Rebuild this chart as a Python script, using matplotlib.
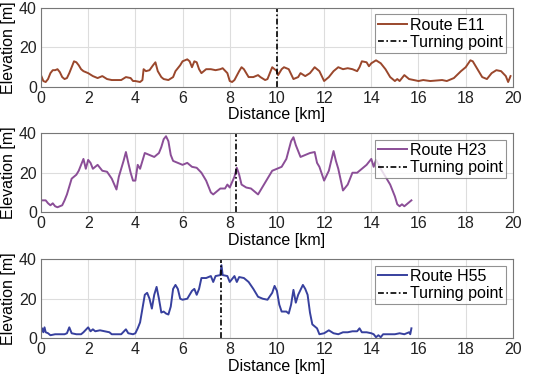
import matplotlib
matplotlib.use("Agg")
import matplotlib.pyplot as plt

plt.rcParams['font.family'] = ['Liberation Sans', 'DejaVu Sans']

# Route E11
e11_x = [0, 0.1, 0.2, 0.3, 0.4, 0.5, 0.6, 0.7, 0.8, 0.9, 1.0, 1.1, 1.2, 1.3, 1.4, 1.5, 1.6, 1.7, 1.8,
         2.0, 2.2, 2.4, 2.6, 2.8, 3.0, 3.2, 3.4, 3.6, 3.8, 3.9, 4.0, 4.2, 4.3, 4.35, 4.45, 4.6, 4.75,
         4.85, 4.95, 5.1, 5.2, 5.4, 5.6, 5.7, 5.9, 6.0, 6.2, 6.3, 6.4, 6.5, 6.6, 6.7, 6.8, 6.9, 7.0,
         7.2, 7.4, 7.6, 7.7, 7.9, 8.0, 8.1, 8.2, 8.4, 8.5, 8.6, 8.8, 9.0, 9.2, 9.3, 9.5, 9.6, 9.8,
         10.0, 10.05, 10.2, 10.3, 10.5, 10.7, 10.9, 11.0, 11.2, 11.4, 11.6, 11.8, 12.0, 12.2, 12.4,
         12.6, 12.8, 13.0, 13.2, 13.4, 13.5, 13.6, 13.8, 13.9, 14.0, 14.2, 14.4, 14.6, 14.8, 15.0,
         15.1, 15.2, 15.4, 15.6, 15.8, 16.0, 16.2, 16.5, 17.0, 17.2, 17.5, 17.8, 18.0, 18.2, 18.3,
         18.5, 18.7, 18.9, 19.1, 19.3, 19.5, 19.7, 19.8, 19.9]
e11_y = [6, 3, 2.5, 4, 7, 8.5, 8.5, 9, 7.5, 5, 4, 4.5, 7, 10, 13, 12.5, 11, 9, 8,
         7, 5.5, 4.5, 5.5, 4, 3.5, 3.5, 3.5, 5, 4.5, 3, 3, 2.5, 3.5, 9, 8, 8.5, 11,
         12.5, 8, 5, 4, 3.5, 5, 8, 11, 13, 14, 13, 10, 13, 12.5, 9, 7, 8, 9,
         9, 8.5, 9, 9.5, 7, 3, 2.5, 3.5, 8, 10, 9, 5, 5, 6, 5, 3.5, 4, 10,
         8, 6, 9, 10, 9, 4, 5, 7, 5.5, 7, 10, 8, 3, 5, 8,
         10, 9, 9.5, 9, 8, 10, 13, 12.5, 10.5, 12, 13.5, 12, 9, 5, 3,
         4, 3, 6, 4, 3.5, 3, 3.5, 3, 3.5, 3, 4.5, 8, 10, 13.5, 13,
         9, 5, 4, 7, 8.5, 8, 5.5, 2.5, 5.5]

# Route H23
h23_x = [0, 0.2, 0.3, 0.4, 0.5, 0.6, 0.7, 0.9, 1.0, 1.1, 1.2, 1.3, 1.5, 1.6, 1.7, 1.8, 1.9, 2.0,
         2.1, 2.2, 2.4, 2.6, 2.8, 3.0, 3.2, 3.3, 3.5, 3.6, 3.7, 3.8, 3.9, 4.0, 4.1, 4.2, 4.3, 4.4,
         4.6, 4.8, 5.0, 5.1, 5.2, 5.3, 5.4, 5.5, 5.6, 5.8, 6.0, 6.2, 6.4, 6.6, 6.8, 7.0, 7.2, 7.3,
         7.5, 7.6, 7.8, 7.9, 8.0, 8.2, 8.3, 8.4, 8.5, 8.7, 8.9, 9.0, 9.2, 9.4, 9.6, 9.8, 10.0,
         10.2, 10.4, 10.6, 10.7, 10.8, 11.0, 11.2, 11.4, 11.6, 11.7, 11.8, 12.0, 12.2, 12.4, 12.5,
         12.6, 12.8, 13.0, 13.2, 13.4, 13.6, 13.8, 14.0, 14.1, 14.2, 14.4, 14.6, 14.8, 15.0, 15.1,
         15.2, 15.3, 15.4, 15.6, 15.7]
h23_y = [6, 6, 4.5, 3.5, 4.5, 3, 2.5, 3.5, 6, 9, 13, 17, 19, 21, 24, 27, 22, 26.5,
         25, 22, 24, 21, 20.5, 17, 11.5, 18, 26, 30.5, 25, 20, 16, 16, 24, 22, 26, 30,
         29, 28, 30, 33, 37, 38.5, 36, 29, 26, 25, 24, 25, 23, 22.5, 20, 16, 10, 9,
         11, 12, 12, 14, 12.5, 18, 22.5, 19, 14, 12.5, 12, 11, 9, 13, 17, 21, 22,
         23, 27, 36, 38, 34, 28, 29, 30, 30.5, 25, 23, 16, 21, 31, 26,
         22, 11, 14, 20, 20, 22, 24, 27, 23, 26.5, 22, 18, 14, 8, 4,
         3, 4, 3, 5, 6]

# Route H55
h55_x = [0, 0.05, 0.1, 0.15, 0.2, 0.3, 0.4, 0.6, 0.8, 1.0, 1.1, 1.2, 1.3, 1.5, 1.7, 1.8, 2.0,
         2.1, 2.2, 2.3, 2.5, 2.7, 2.9, 3.0, 3.2, 3.4, 3.6, 3.7, 3.9, 4.0, 4.1, 4.2, 4.3, 4.4, 4.5,
         4.6, 4.7, 4.8, 4.9, 5.0, 5.1, 5.2, 5.3, 5.4, 5.5, 5.6, 5.7, 5.8, 5.9, 6.0, 6.2, 6.3, 6.4,
         6.5, 6.6, 6.7, 6.8, 7.0, 7.2, 7.3, 7.4, 7.6, 7.65, 7.7, 7.9, 8.0, 8.2, 8.3, 8.4, 8.6, 8.8,
         9.0, 9.2, 9.4, 9.6, 9.8, 9.9, 10.0, 10.1, 10.2, 10.4, 10.5, 10.6, 10.7, 10.8, 10.9, 11.1,
         11.2, 11.3, 11.4, 11.5, 11.6, 11.7, 11.8, 12.0, 12.2, 12.4, 12.6, 12.8, 13.0, 13.2, 13.4,
         13.5, 13.6, 13.8, 14.0, 14.1, 14.2, 14.3, 14.4, 14.5, 14.7, 15.0, 15.2, 15.4, 15.6, 15.65,
         15.7]
h55_y = [3, 5, 3, 5.5, 3, 2.5, 1.5, 2, 2, 2, 2.5, 5.5, 2.5, 2, 2, 3, 5.5,
         3.5, 4.5, 3.5, 4, 3.5, 3, 2, 2, 2, 4.5, 2.5, 2, 2.5, 5, 8, 15, 22, 23,
         20, 15, 22, 26, 20, 13, 13.5, 12.5, 12, 16, 25, 27, 25, 20, 19.5, 20, 22, 24,
         25, 22, 25, 30.5, 30.5, 31.5, 28.5, 31.5, 32, 37, 32, 31.5, 28.5, 31.5, 28.5, 31, 30.5, 28.5,
         25, 21, 20, 19.5, 23, 26.5, 24, 17, 13.5, 13.5, 12.5, 17, 24.5, 18, 22, 27,
         25, 22, 13, 7, 6, 5, 2, 2.5, 4, 2.5, 2, 3, 3, 3.5, 3.5,
         5, 3, 3, 2.5, 2, 0.5, 1.5, 0.5, 2, 2, 2, 2.5, 2, 3, 2,
         5]

routes = [("Route E11", e11_x, e11_y, "#9a472c", 10.0),
          ("Route H23", h23_x, h23_y, "#8b4e97", 8.27),
          ("Route H55", h55_x, h55_y, "#37409e", 7.65)]

fig = plt.figure(figsize=(5.5, 3.83), dpi=100)
bottoms = [0.773, 0.446, 0.117]
for (name, xs, ys, col, turn), b in zip(routes, bottoms):
    ax = fig.add_axes([0.0745, b, 0.858, 0.206])
    ax.plot(xs, ys, color=col, lw=1.4, label=name)
    ax.plot([turn, turn], [0, 40], color="black", lw=1.2, dashes=(3.5, 1.5, 1, 1.5),
            label="Turning point")
    ax.set_xlim(0, 20)
    ax.set_ylim(0, 40)
    ax.set_xticks(range(0, 21, 2))
    ax.set_yticks([0, 20, 40])
    ax.grid(True, color="#dddddd", lw=0.8)
    ax.set_axisbelow(True)
    for s in ax.spines.values():
        s.set_color("#777777")
    ax.tick_params(labelsize=11.5, length=0, pad=3, colors="#222222")
    ax.set_xlabel("Distance [km]", fontsize=11.5, labelpad=1)
    ax.set_ylabel("Elevation [m]", fontsize=11.5, labelpad=2)
    leg = ax.legend(loc="upper right", fontsize=11.5, handlelength=1.8, handletextpad=0.2,
                    borderpad=0.2, labelspacing=0.15, borderaxespad=0.4, fancybox=False)
    leg.get_frame().set_edgecolor("#777777")
    leg.get_frame().set_linewidth(0.8)

fig.savefig("out.png", dpi=100)
